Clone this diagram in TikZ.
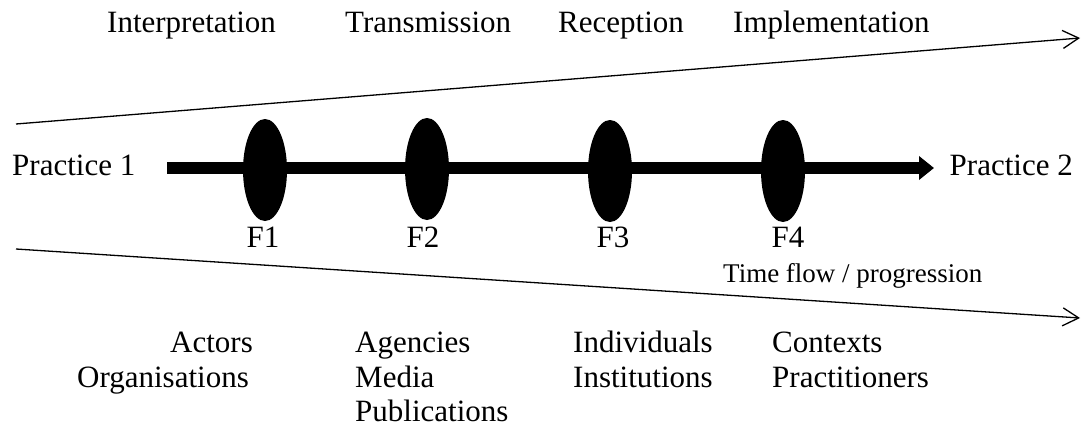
\documentclass[tikz,border=0pt]{standalone}
\usepackage{fontspec}
\setmainfont{Liberation Serif}
\usetikzlibrary{arrows.meta,shapes.geometric}
\begin{document}
\begin{tikzpicture}[x=1pt,y=-1pt,
  lbl/.style={inner sep=0pt,font=\fontsize{31}{37}\selectfont},
  small/.style={inner sep=0pt,font=\fontsize{27}{32}\selectfont},
  phase/.style={ellipse,fill=black,minimum width=44pt,minimum height=102pt,inner sep=0pt},
  bound/.style={line width=1.3pt,-{Straight Barb[length=16pt,width=18pt,line width=1.3pt]}},
  flow/.style={line width=12pt,-{Triangle[length=15pt,width=23pt]}}]
\useasboundingbox (0,0) rectangle (1084,428);
% top labels
\node[lbl,anchor=base west] (interp) at (107,33) {Interpretation};
\node[lbl,anchor=base west] (trans) at (345,33) {Transmission};
\node[lbl,anchor=base west] (recep) at (558,33) {Reception};
\node[lbl,anchor=base west] (impl) at (733,33) {Implementation};
% boundary lines
\coordinate (tl) at (16,124);
\coordinate (tr) at (1080,38);
\coordinate (bl) at (16,249);
\coordinate (br) at (1080,318);
\draw[bound] (tl) -- (tr);
\draw[bound] (bl) -- (br);
% practices
\node[lbl,anchor=base west] (p1) at (12,175) {Practice 1};
\node[lbl,anchor=base east] (p2) at (1073,175) {Practice 2};
% main flow
\coordinate (fs) at (167,168);
\coordinate (fe) at (934,168);
\draw[flow] (fs) -- (fe);
\node[phase] (e1) at (265,170) {};
\node[phase] (e2) at (427,169) {};
\node[phase] (e3) at (610,171) {};
\node[phase] (e4) at (783,171) {};
\node[lbl,anchor=base] (f1) at (263,247) {F1};
\node[lbl,anchor=base] (f2) at (423,247) {F2};
\node[lbl,anchor=base] (f3) at (613,247) {F3};
\node[lbl,anchor=base] (f4) at (788,247) {F4};
\node[small,anchor=base west] (time) at (723,282) {Time flow / progression};
% bottom labels
\node[lbl,anchor=base west] (actors) at (170,352) {Actors};
\node[lbl,anchor=base east] (orgs) at (249,387) {Organisations};
\node[lbl,anchor=base west] (agen) at (355,352) {Agencies};
\node[lbl,anchor=base west] (media) at (355,387) {Media};
\node[lbl,anchor=base west] (pubs) at (355,421) {Publications};
\node[lbl,anchor=base west] (indiv) at (573,352) {Individuals};
\node[lbl,anchor=base west] (inst) at (573,387) {Institutions};
\node[lbl,anchor=base west] (ctx) at (772,352) {Contexts};
\node[lbl,anchor=base west] (prac) at (772,387) {Practitioners};
\end{tikzpicture}
\end{document}
